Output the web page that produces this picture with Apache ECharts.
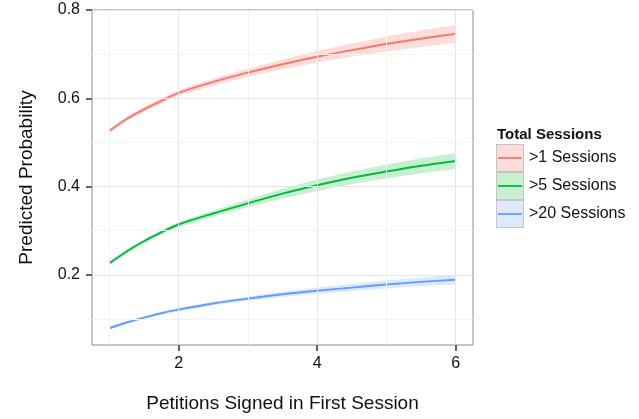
<!DOCTYPE html>
<html>
<head>
<meta charset="utf-8">
<script src="https://cdn.jsdelivr.net/npm/echarts@6/dist/echarts.min.js"></script>
<style>html,body{margin:0;padding:0;background:#fff;}#c{width:639px;height:419px;}</style>
</head>
<body>
<div id="c"></div>
<script>
// ---- data ----
const xs = [1, 1.25, 1.5, 1.75, 2, 2.5, 3, 3.5, 4, 4.5, 5, 5.5, 6];
const red   = [0.526,0.553,0.575,0.594,0.612,0.637,0.658,0.677,0.694,0.709,0.723,0.735,0.746];
const redLo = [0.521,0.548,0.569,0.588,0.605,0.629,0.649,0.666,0.681,0.694,0.706,0.716,0.726];
const redHi = [0.531,0.558,0.581,0.600,0.619,0.645,0.667,0.688,0.707,0.724,0.740,0.754,0.766];
const green   = [0.226,0.253,0.276,0.296,0.314,0.339,0.362,0.384,0.403,0.420,0.434,0.447,0.458];
const greenLo = [0.222,0.249,0.271,0.291,0.308,0.332,0.353,0.373,0.390,0.406,0.418,0.430,0.440];
const greenHi = [0.230,0.257,0.281,0.301,0.320,0.346,0.371,0.395,0.416,0.434,0.450,0.464,0.476];
const blue   = [0.079,0.092,0.103,0.113,0.121,0.135,0.146,0.156,0.164,0.171,0.178,0.184,0.189];
const blueLo = [0.076,0.089,0.100,0.110,0.117,0.131,0.141,0.150,0.157,0.163,0.169,0.174,0.178];
const blueHi = [0.082,0.095,0.106,0.116,0.125,0.139,0.151,0.162,0.171,0.179,0.187,0.194,0.200];
const seriesNames = ['>1 Sessions', '>5 Sessions', '>20 Sessions'];
const xTicks = [2, 4, 6];
const xMinor = [1, 3, 5];
const yTicks = [0.2, 0.4, 0.6, 0.8];
const yMinor = [0.1, 0.3, 0.5, 0.7];

const colors = ['#F8766D', '#00BA38', '#619CFF'];
const fills = ['rgba(248,118,109,0.25)', 'rgba(0,186,56,0.22)', 'rgba(97,156,255,0.22)'];
const FONT = '"Liberation Sans", Arial, Helvetica, sans-serif';

function pairs(ys) { return xs.map((x, i) => [x, ys[i]]); }

function keyIcon(i) {
  const svg = '<svg xmlns="http://www.w3.org/2000/svg" width="28" height="28">' +
    '<rect x="0.5" y="0.5" width="27" height="27" fill="' + fills[i] + '" stroke="#c4c4c4" stroke-width="1"/>' +
    '<line x1="2" y1="14" x2="26" y2="14" stroke="' + colors[i] + '" stroke-width="1.8"/></svg>';
  return 'image://data:image/svg+xml;charset=utf-8,' + encodeURIComponent(svg);
}

const groups = [[red, redLo, redHi], [green, greenLo, greenHi], [blue, blueLo, blueHi]];
const series = [];

// grid lines (drawn through the axes' scales)
series.push({
  type: 'line', data: [], silent: true, z: 0,
  markLine: {
    silent: true, symbol: 'none', label: { show: false }, animation: false,
    data: [
      ...yMinor.map(v => ({ yAxis: v, lineStyle: { color: '#f3f3f3', width: 1, type: 'solid' } })),
      ...xMinor.map(v => ({ xAxis: v, lineStyle: { color: '#f3f3f3', width: 1, type: 'solid' } })),
      ...yTicks.map(v => ({ yAxis: v, lineStyle: { color: '#e6e6e6', width: 1, type: 'solid' } })),
      ...xTicks.map(v => ({ xAxis: v, lineStyle: { color: '#e6e6e6', width: 1, type: 'solid' } }))
    ]
  }
});

// confidence ribbons: polygons through the axes' coord()
groups.forEach((g, i) => {
  const lo = g[1], hi = g[2];
  series.push({
    name: 'band' + i, type: 'custom', silent: true, z: 1,
    data: [[xs[0], lo[0]]],
    encode: { x: 0, y: 1 },
    renderItem: function (params, api) {
      const top = xs.map((x, k) => api.coord([x, hi[k]]));
      const bot = xs.map((x, k) => api.coord([x, lo[k]])).reverse();
      return {
        type: 'polygon',
        shape: { points: top.concat(bot) },
        style: { fill: fills[i], stroke: null }
      };
    }
  });
});
groups.forEach((g, i) => {
  series.push({
    name: seriesNames[i], type: 'line', data: pairs(g[0]), symbol: 'none', smooth: 0.3,
    lineStyle: { color: colors[i], width: 1.9 }, itemStyle: { color: colors[i] }, z: 3
  });
});

const chart = echarts.init(document.getElementById('c'), null, { renderer: 'canvas' });
chart.setOption({
  animation: false,
  backgroundColor: '#ffffff',
  textStyle: { fontFamily: FONT },
  title: {
    text: 'Total Sessions', left: 497, top: 127, padding: 0,
    textStyle: { fontFamily: FONT, fontSize: 15, fontWeight: 'bold', color: '#111' }
  },
  legend: {
    orient: 'vertical', left: 496, top: 144, padding: 0,
    itemWidth: 28, itemHeight: 28, itemGap: 0,
    selectedMode: false,
    textStyle: { fontFamily: FONT, fontSize: 16, color: '#111' },
    data: seriesNames.map((n, i) => ({ name: n, icon: keyIcon(i) }))
  },
  grid: {
    left: 92, top: 10, right: 166, bottom: 74, show: true,
    borderColor: '#8c8c8c', borderWidth: 1, backgroundColor: 'transparent'
  },
  xAxis: {
    type: 'value', min: 0.75, max: 6.25,
    name: 'Petitions Signed in First Session', nameLocation: 'middle', nameGap: 49,
    nameTextStyle: { fontFamily: FONT, fontSize: 19, color: '#111' },
    axisLine: { show: false },
    axisTick: { show: true, length: 6, customValues: xTicks, lineStyle: { color: '#333', width: 1.5 } },
    axisLabel: { customValues: xTicks, margin: 11, fontFamily: FONT, fontSize: 16, color: '#111' },
    splitLine: { show: false }
  },
  yAxis: {
    type: 'value', min: 0.041, max: 0.80,
    name: 'Predicted Probability', nameLocation: 'middle', nameGap: 56,
    nameTextStyle: { fontFamily: FONT, fontSize: 19, color: '#111' },
    axisLine: { show: false },
    axisTick: { show: true, length: 6, customValues: yTicks, lineStyle: { color: '#333', width: 1.5 } },
    axisLabel: { customValues: yTicks, margin: 12, fontFamily: FONT, fontSize: 16, color: '#111',
      formatter: v => v.toFixed(1) },
    splitLine: { show: false }
  },
  series: series
});
</script>
</body>
</html>
